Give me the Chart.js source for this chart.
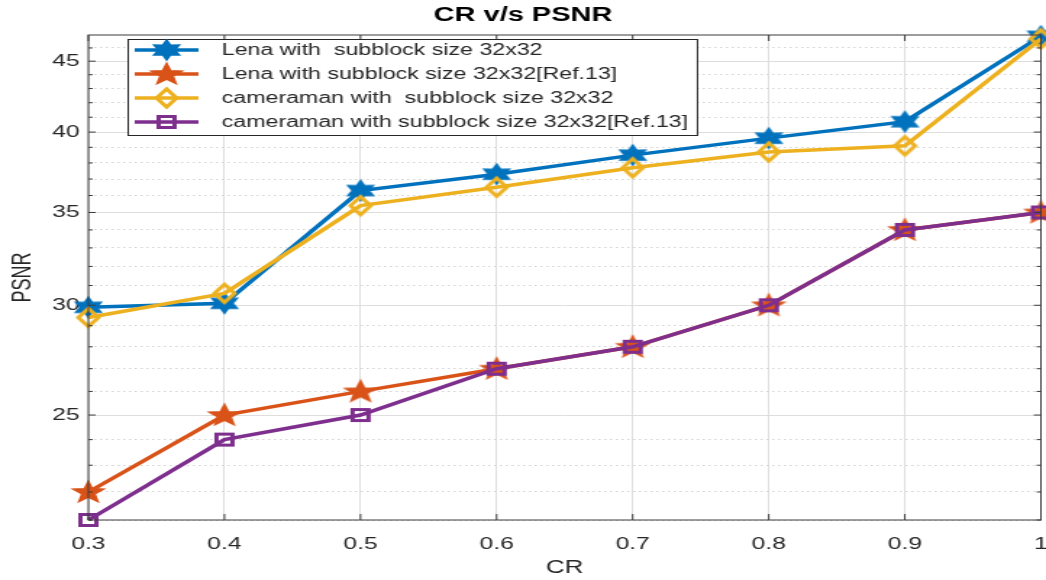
<!DOCTYPE html>
<html>
<head>
<meta charset="utf-8">
<script src="https://cdn.jsdelivr.net/npm/chart.js@4.4.1/dist/chart.umd.min.js"></script>
<style>
  html, body { margin: 0; padding: 0; background: #fff; }
</style>
</head>
<body>
<!-- the source figure is stretched sideways, so draw narrow and stretch with css -->
<canvas id="psnrChart" width="722" height="580" style="width:1046px;height:580px"></canvas>
<script>
// CR on the x axis
const crValues = [0.3, 0.4, 0.5, 0.6, 0.7, 0.8, 0.9, 1];
const xTickLabels = ['0.3', '0.4', '0.5', '0.6', '0.7', '0.8', '0.9', '1'];

// PSNR values
const lenaOurs = [29.9, 30.1, 36.3, 37.3, 38.5, 39.6, 40.7, 46.9];
const lenaRef13 = [22.0, 25.0, 26.0, 27.0, 28.0, 30.0, 34.0, 35.0];
const cameramanOurs = [29.4, 30.6, 35.4, 36.5, 37.7, 38.7, 39.1, 46.7];
const cameramanRef13 = [21.0, 24.0, 25.0, 27.0, 28.0, 30.0, 34.0, 35.0];

const seriesLabels = [
  'Lena with  subblock size 32x32',
  'Lena with subblock size 32x32[Ref.13]',
  'cameraman with  subblock size 32x32',
  'cameraman with subblock size 32x32[Ref.13]'
];

// log y axis
const yMin = 21;
const yMax = 47;
const yMajorTicks = [25, 30, 35, 40, 45];
const yMinorTicks = [21, 22, 23, 24, 26, 27, 28, 29, 31, 32, 33, 34, 36, 37, 38, 39, 41, 42, 43, 44, 46];

const FONT = "'Liberation Sans', Arial, sans-serif";
const TEXT = '#262626';

// marker images (matlab style hexagram, pentagram, diamond, square)
function starPath(ctx, cx, cy, points, outer, inner) {
  ctx.beginPath();
  for (let i = 0; i < points * 2; i++) {
    const r = i % 2 === 0 ? outer : inner;
    const a = -Math.PI / 2 + i * Math.PI / points;
    const px = cx + r * Math.cos(a);
    const py = cy + r * Math.sin(a);
    if (i === 0) ctx.moveTo(px, py); else ctx.lineTo(px, py);
  }
  ctx.closePath();
}

function makeMarker(type, color) {
  const c = document.createElement('canvas');
  c.width = 26;
  c.height = 26;
  const g = c.getContext('2d');
  g.strokeStyle = color;
  g.fillStyle = color;
  g.lineJoin = 'miter';
  if (type === 'hexagram') {
    starPath(g, 13, 13, 6, 10, 5.5);
    g.lineWidth = 1.5;
    g.fill();
    g.stroke();
  } else if (type === 'pentagram') {
    starPath(g, 13, 13.5, 5, 11, 4.6);
    g.lineWidth = 1.5;
    g.fill();
    g.stroke();
  } else if (type === 'diamond') {
    g.lineWidth = 3;
    g.beginPath();
    g.moveTo(13, 4);
    g.lineTo(20, 13);
    g.lineTo(13, 22);
    g.lineTo(6, 13);
    g.closePath();
    g.stroke();
  } else {
    g.lineWidth = 3;
    g.strokeRect(7.5, 7.5, 11, 11);
  }
  return c;
}

const colors = ['#0072BD', '#D95319', '#EDB120', '#7E2F8E'];
const markers = [
  makeMarker('hexagram', colors[0]),
  makeMarker('pentagram', colors[1]),
  makeMarker('diamond', colors[2]),
  makeMarker('square', colors[3])
];
const seriesValues = [lenaOurs, lenaRef13, cameramanOurs, cameramanRef13];

const datasets = seriesValues.map((vals, i) => ({
  label: seriesLabels[i],
  data: vals.map((v, j) => ({ x: crValues[j], y: v })),
  borderColor: colors[i],
  backgroundColor: colors[i],
  borderWidth: 3.5,
  pointStyle: markers[i],
  pointRadius: 6,
  tension: 0,
  clip: false,
  order: 4 - i
}));

// box round the axes with inward tick marks
const axesBox = {
  id: 'axesBox',
  afterDatasetsDraw(chart) {
    const { ctx, chartArea: a, scales } = chart;
    ctx.save();
    ctx.strokeStyle = '#3c3c3c';
    ctx.lineWidth = 1;
    ctx.beginPath();
    crValues.forEach(v => {
      const px = scales.x.getPixelForValue(v);
      ctx.moveTo(px, a.bottom);
      ctx.lineTo(px, a.bottom - 6);
      ctx.moveTo(px, a.top);
      ctx.lineTo(px, a.top + 6);
    });
    yMajorTicks.forEach(v => {
      const py = scales.y.getPixelForValue(v);
      ctx.moveTo(a.left, py);
      ctx.lineTo(a.left + 5, py);
      ctx.moveTo(a.right, py);
      ctx.lineTo(a.right - 5, py);
    });
    yMinorTicks.forEach(v => {
      const py = scales.y.getPixelForValue(v);
      ctx.moveTo(a.left, py);
      ctx.lineTo(a.left + 3, py);
      ctx.moveTo(a.right, py);
      ctx.lineTo(a.right - 3, py);
    });
    ctx.stroke();
    ctx.strokeRect(a.left, a.top, a.width, a.height);
    ctx.restore();
  }
};

// legend inside the plot, line + marker like matlab
const legendBox = {
  id: 'legendBox',
  afterDraw(chart) {
    const { ctx, chartArea } = chart;
    const left = chartArea.left + 27;
    const top = chartArea.top + 4;
    const rowH = 24;
    const textX = left + 65;
    ctx.save();
    ctx.font = '16px ' + FONT;
    const sets = chart.data.datasets;
    const maxW = Math.max(...sets.map(d => ctx.measureText(d.label).width));
    const w = textX - left + maxW + 6;
    const h = rowH * sets.length;
    ctx.fillStyle = '#fff';
    ctx.fillRect(left, top, w, h);
    ctx.strokeStyle = TEXT;
    ctx.lineWidth = 1;
    ctx.strokeRect(left + 0.5, top + 0.5, w, h);
    sets.forEach((d, i) => {
      const cy = top + 11 + i * rowH;
      ctx.strokeStyle = d.borderColor;
      ctx.lineWidth = 3.5;
      ctx.beginPath();
      ctx.moveTo(left + 5, cy);
      ctx.lineTo(left + 49, cy);
      ctx.stroke();
      const img = d.pointStyle;
      ctx.drawImage(img, left + 27 - img.width / 2, cy - img.height / 2);
      ctx.fillStyle = TEXT;
      ctx.textBaseline = 'middle';
      ctx.fillText(d.label, textX, cy + 1);
    });
    ctx.restore();
  }
};

Chart.defaults.font.family = FONT;
Chart.defaults.color = TEXT;

const ctx = document.getElementById('psnrChart').getContext('2d');
new Chart(ctx, {
  type: 'line',
  data: { datasets },
  options: {
    responsive: false,
    animation: false,
    events: [],
    // no auto padding for the point markers, matlab lets them run over the box
    layout: { padding: 0, autoPadding: false },
    plugins: {
      legend: { display: false },
      tooltip: { enabled: false },
      title: {
        display: true,
        text: 'CR v/s PSNR',
        color: '#000',
        font: { size: 20, weight: 'bold' },
        padding: { top: 3, bottom: 8 }
      }
    },
    scales: {
      x: {
        type: 'linear',
        min: crValues[0],
        max: crValues[crValues.length - 1],
        afterBuildTicks: s => { s.ticks = crValues.map(v => ({ value: v })); },
        // fixed height, and only a small gap on the right for the "1" label
        afterFit: s => {
          s.height = 60;
          s.paddingLeft = 0;
          s.paddingRight = 3.5;
        },
        ticks: {
          autoSkip: false,
          maxRotation: 0,
          padding: 14,
          font: { size: 17 },
          callback: (v, i) => xTickLabels[i]
        },
        grid: { color: '#dedede', lineWidth: 1, drawTicks: false },
        border: { display: false },
        title: { display: true, text: 'CR', font: { size: 18 }, padding: { top: 0, bottom: 1 } }
      },
      y: {
        type: 'logarithmic',
        min: yMin,
        max: yMax,
        afterBuildTicks: s => { s.ticks = yMajorTicks.map(v => ({ value: v })); },
        afterFit: s => { s.width = 61; },
        ticks: { padding: 6, font: { size: 17 }, callback: v => String(v) },
        grid: { color: '#dedede', lineWidth: 1, drawTicks: false },
        border: { display: false },
        title: { display: true, text: 'PSNR', font: { size: 18 }, padding: { top: 5, bottom: 0 } }
      },
      yMinor: {
        type: 'logarithmic',
        position: 'right',
        min: yMin,
        max: yMax,
        afterBuildTicks: s => { s.ticks = yMinorTicks.map(v => ({ value: v })); },
        afterFit: s => { s.width = 0; },
        ticks: { display: false },
        grid: { color: '#d4d4d4', lineWidth: 1, drawTicks: false },
        border: { display: false, dash: [1.5, 2.5] }
      }
    }
  },
  plugins: [axesBox, legendBox]
});
</script>
</body>
</html>
